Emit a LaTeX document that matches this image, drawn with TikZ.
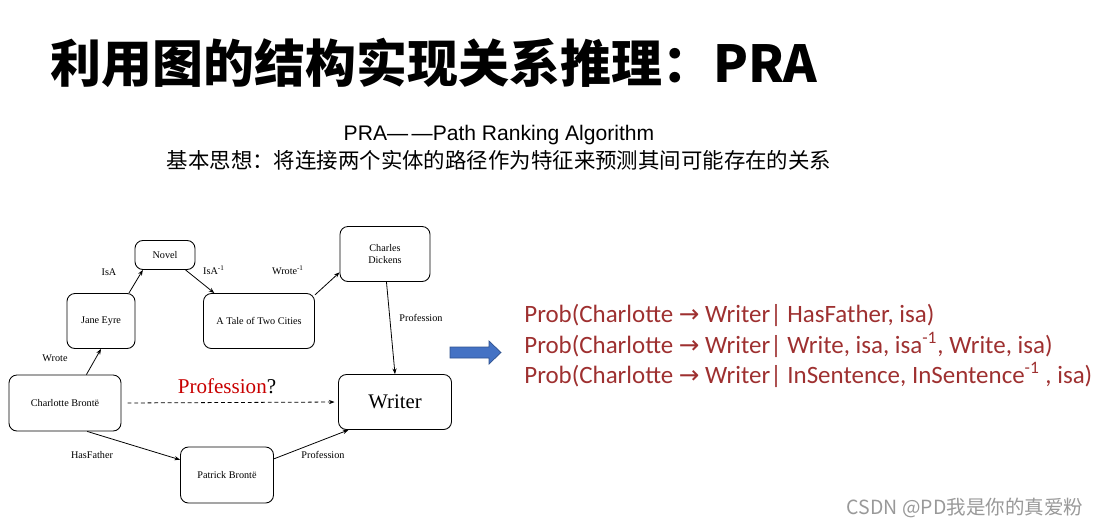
\documentclass[tikz,border=0pt]{standalone}
\usepackage{fontspec}
\usepackage{tikz}
\usetikzlibrary{arrows.meta}
\setmainfont{Liberation Serif}
\newfontfamily\cjk{Noto Sans CJK SC}
\newfontfamily\arial{Liberation Sans}
\newfontfamily\calibri{Carlito}
\newfontfamily\symfont{DejaVu Sans}
\definecolor{probred}{RGB}{158,48,48}
\definecolor{qred}{RGB}{200,0,0}
\definecolor{blockblue}{RGB}{68,114,196}
\definecolor{blockedge}{RGB}{47,82,143}
\newcommand{\ra}{{\symfont\fontsize{14}{15}\selectfont →}}

\tikzset{
  ent/.style={draw, line width=0.5pt, rounded corners=4.5pt, inner sep=0pt, align=center,
    font=\fontsize{5.8}{7}\selectfont},
  rel/.style={inner sep=0pt, font=\fontsize{5.8}{7}\selectfont},
  link/.style={line width=0.45pt, -{Stealth[length=3.2pt,width=2.4pt]}},
  probline/.style={anchor=west, inner sep=0pt, text=probred, font=\calibri\fontsize{14.2}{16}\selectfont}
}

\begin{document}
\begin{tikzpicture}[x=0.02cm,y=-0.02cm]
		\useasboundingbox (0,0) rectangle (1098,528);
		
		\node (title) at (434,63) {\cjk\bfseries\fontsize{29}{34}\selectfont 利用图的结构实现关系推理：PRA};
		\node (sub1) at (499,135) {\arial\fontsize{12}{14}\selectfont PRA—\,—Path Ranking Algorithm};
		\node (sub2) at (499,160) {\cjk\fontsize{12.2}{14}\selectfont 基本思想：将连接两个实体的路径作为特征来预测其间可能存在的关系};
		
		\node[ent, minimum width=1.2cm, minimum height=0.58cm] (nov) at (165,255) {Novel};
		\node[ent, minimum width=1.36cm, minimum height=1.1cm] (je) at (101,321) {Jane Eyre};
		\node[ent, minimum width=2.22cm, minimum height=1.1cm] (tale) at (259,321) {A Tale of Two Cities};
		\node[ent, minimum width=1.8cm, minimum height=1.1cm] (cd) at (385,254) {Charles\\Dickens};
		\node[ent, minimum width=2.24cm, minimum height=1.12cm] (cb) at (65,403) {Charlotte Brontë};
		\node[ent, minimum width=2.26cm, minimum height=1.1cm, font=\fontsize{11.8}{14}\selectfont] (wr) at (395,402) {Writer};
		\node[ent, minimum width=1.86cm, minimum height=1.12cm] (pb) at (227,475) {Patrick Brontë};
		
		\draw[link] (je.45) to (nov.214);
		\draw[link] (nov.-36) to (tale.148);
		\draw[link] (tale.25) to (cd.202);
		\draw[link] (cd.-87) to (wr.north);
		\draw[link] (cb.53) to (je.south);
		\draw[link] (cb.-52) to (pb.162);
		\draw[link] (pb.19) to (wr.211);
		\draw[link, dashed, dash pattern=on 2.2pt off 1.6pt, shorten <=3.5pt, shorten >=2pt] (cb.east) to (wr.west);
		
		\node[rel] (l1) at (109,272) {IsA};
		\node[rel] (l2) at (214,270) {IsA\textsuperscript{-1}};
		\node[rel] (l3) at (288,270) {Wrote\textsuperscript{-1}};
		\node[rel] (l4) at (421,318) {Profession};
		\node[rel] (l5) at (55,358) {Wrote};
		\node[rel] (l6) at (92,455) {HasFather};
		\node[rel] (l7) at (323,455) {Profession};
		\node[inner sep=0pt, font=\fontsize{12}{14}\selectfont] (q) at (227,386) {\textcolor{qred}{Profession}?};
		
		\draw[fill=blockblue, draw=blockedge, line width=0.4pt] (450,347) -- (489,347) -- (489,341) -- (501,352.5) -- (489,364) -- (489,358) -- (450,358) -- cycle;
		
		\node[probline] (p1) at (524,315) {Prob(Charlotte \ra{} Writer| HasFather, isa)};
		\node[probline] (p2) at (524,345) {Prob(Charlotte \ra{} Writer| Write, isa, isa\textsuperscript{-1}, Write, isa)};
		\node[probline] (p3) at (524,375) {Prob(Charlotte \ra{} Writer| InSentence, InSentence\textsuperscript{-1} ,  isa)};
		
		\node[text=black!40, font=\cjk\fontsize{11.1}{13}\selectfont] (wm) at (965,508) {CSDN @PD我是你的真爱粉};
	\end{tikzpicture}
\end{document}
